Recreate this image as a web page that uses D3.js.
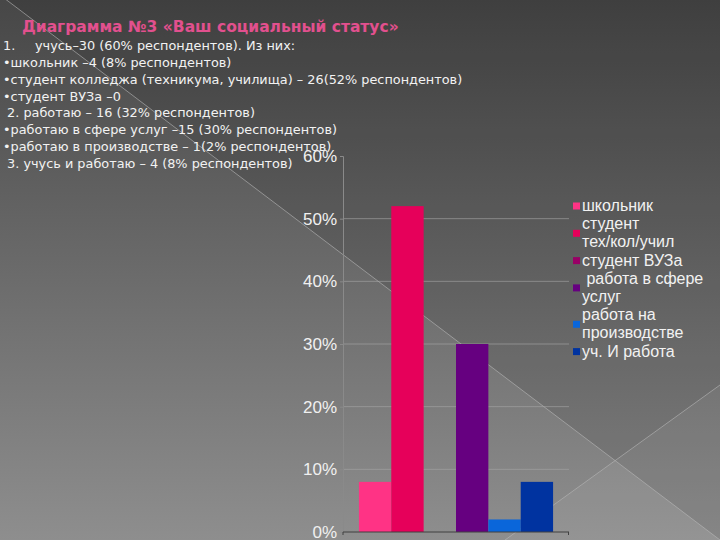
<!DOCTYPE html>
<html>
<head>
<meta charset="utf-8">
<script src="https://cdn.jsdelivr.net/npm/d3@7"></script>
<style>
  html, body { margin: 0; padding: 0; background: #4a4a4a; }
  svg { display: block; }
</style>
</head>
<body>
<svg id="chart" width="720" height="540"></svg>
<script>
// ---- data ----
const titleText = "Диаграмма №3 «Ваш социальный статус»";
const textLines = [
  "учусь–30 (60% респондентов). Из них:",
  "•школьник –4 (8% респондентов)",
  "•студент колледжа (техникума, училища) – 26(52% респондентов)",
  "•студент ВУЗа –0",
  " 2. работаю – 16 (32% респондентов)",
  "•работаю в сфере услуг –15 (30% респондентов)",
  "•работаю в производстве – 1(2% респондентов)",
  " 3. учусь и работаю – 4 (8% респондентов)"
];
const categories = ["Статус"];
const seriesNames = ["школьник", "студент тех/кол/учил", "студент ВУЗа", " работа в сфере услуг", "работа на производстве", "уч. И работа"];
const legendLines = [["школьник"], ["студент", "тех/кол/учил"], ["студент ВУЗа"], [" работа в сфере", "услуг"], ["работа на", "производстве"], ["уч. И работа"]];
const seriesValues = [0.08, 0.52, 0.00, 0.30, 0.02, 0.08];
const seriesColors = ["#FF3385", "#E6005A", "#990066", "#660080", "#0A66DA", "#0033A0"];
const yTicks = [0, 0.1, 0.2, 0.3, 0.4, 0.5, 0.6];

// ---- drawing ----
const svg = d3.select("#chart");
const W = 720, H = 540;

// background
const defs = svg.append("defs");
const bg = defs.append("linearGradient").attr("id", "bg").attr("x1", 0).attr("y1", 0).attr("x2", 0).attr("y2", 1);
bg.append("stop").attr("offset", "0%").attr("stop-color", "#474747");
bg.append("stop").attr("offset", "100%").attr("stop-color", "#8e8e8e");
svg.append("rect").attr("width", W).attr("height", H).attr("fill", "url(#bg)");
svg.append("path").attr("d", "M0,-5 L720,-5 L720,540 Z").attr("fill", "#000").attr("opacity", 0.1);
svg.append("path").attr("d", "M505,540 L720,385 L720,540 Z").attr("fill", "#fff").attr("opacity", 0.06);
svg.append("line").attr("x1", 0).attr("y1", -5).attr("x2", 720).attr("y2", 540)
  .attr("stroke", "#b8b8b8").attr("stroke-width", 1).attr("opacity", 0.6);
svg.append("line").attr("x1", 505).attr("y1", 540).attr("x2", 720).attr("y2", 385)
  .attr("stroke", "#b8b8b8").attr("stroke-width", 1).attr("opacity", 0.6);

// texts
svg.append("text").attr("x", 22).attr("y", 32)
  .attr("font-family", "DejaVu Sans").attr("font-weight", "bold").attr("font-size", 15.5)
  .attr("fill", "#E2508E").text(titleText);

const textG = svg.append("g").attr("font-family", "DejaVu Sans").attr("font-size", 12.85).attr("fill", "#f2f2f2");
textG.append("text").attr("x", 3).attr("y", 50).text("1.");
textG.selectAll("text.line").data(textLines).join("text")
  .attr("class", "line")
  .attr("x", (d, i) => i === 0 ? 35 : 3)
  .attr("y", (d, i) => 50 + i * 16.85)
  .attr("xml:space", "preserve")
  .style("white-space", "pre")
  .text(d => d);

// chart
const x0 = d3.scaleBand().domain(categories).range([343, 569]).paddingInner(0).paddingOuter(0.082);
const x1 = d3.scaleBand().domain(seriesNames).range([0, x0.bandwidth()]).padding(0);
const y = d3.scaleLinear().domain([0, 0.6]).range([532, 156]);

const grid = svg.append("g");
grid.selectAll("line").data(yTicks.filter(t => t > 0 && t < 0.6)).join("line")
  .attr("x1", 343).attr("x2", 569)
  .attr("y1", d => y(d)).attr("y2", d => y(d))
  .attr("stroke", "#a8a8a8").attr("stroke-width", 1).attr("opacity", 0.6);

const yAxis = d3.axisLeft(y).tickValues(yTicks).tickFormat(d3.format(".0%")).tickSize(3).tickPadding(3);
const yg = svg.append("g").attr("transform", "translate(343,0)").call(yAxis);
yg.select(".domain").attr("stroke", "#8a8a8a");
yg.selectAll(".tick line").attr("stroke", "#8a8a8a");
yg.selectAll(".tick text").attr("font-family", "Liberation Sans, Arial").attr("font-size", 17).attr("fill", "#f0f0f0");

// bars
const grp = svg.append("g").selectAll("g").data(categories).join("g")
  .attr("transform", d => `translate(${x0(d)},0)`);
grp.selectAll("rect").data(seriesNames.map((n, i) => ({ name: n, value: seriesValues[i], color: seriesColors[i] })))
  .join("rect")
  .attr("x", d => x1(d.name))
  .attr("width", x1.bandwidth())
  .attr("y", d => y(d.value))
  .attr("height", d => y(0) - y(d.value))
  .attr("fill", d => d.color);

// x axis line
const xg = svg.append("g").attr("transform", "translate(0,532)");
xg.append("line").attr("x1", 343).attr("x2", 569).attr("stroke", "#404040").attr("stroke-width", 1.2);
xg.append("line").attr("x1", 343).attr("x2", 343).attr("y1", 0).attr("y2", 3).attr("stroke", "#404040");
xg.append("line").attr("x1", 568.5).attr("x2", 568.5).attr("y1", 0).attr("y2", 3).attr("stroke", "#404040");

// legend
const leg = svg.append("g").attr("font-family", "Liberation Sans, Arial").attr("font-size", 16).attr("fill", "#f2f2f2");
let lineIdx = 0;
legendLines.forEach((lines, i) => {
  const firstBase = 211 + lineIdx * 18.2;
  const center = firstBase - 5 + (lines.length - 1) * 18.2 / 2;
  leg.append("rect").attr("x", 573).attr("y", center - 3.5).attr("width", 7).attr("height", 7).attr("fill", seriesColors[i]);
  lines.forEach((l, j) => {
    leg.append("text").attr("x", 582).attr("y", firstBase + j * 18.2)
      .attr("xml:space", "preserve").style("white-space", "pre").text(l);
  });
  lineIdx += lines.length;
});
</script>
</body>
</html>
